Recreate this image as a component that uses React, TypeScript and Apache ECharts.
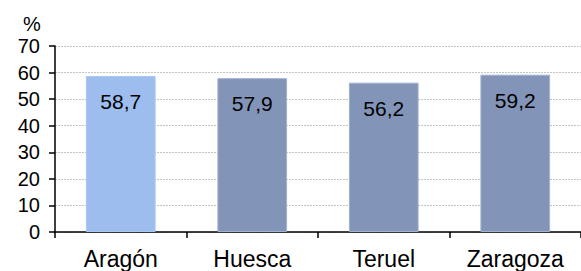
import React, { useEffect, useRef } from "react";
import * as echarts from "echarts";

const categories = ["Aragón", "Huesca", "Teruel", "Zaragoza"];
const values = [58.7, 57.9, 56.2, 59.2];
const barColors = ["#9DBDEF", "#8295B8", "#8295B8", "#8295B8"];
const borderColors = ["#A9C5F0", "#A3B1CC", "#A3B1CC", "#A3B1CC"];

export default function App() {
  const ref = useRef<HTMLDivElement>(null);
  useEffect(() => {
    if (!ref.current) return;
    const chart = echarts.init(ref.current, undefined, { renderer: "svg" });
    const font = "'Liberation Sans', Arial, sans-serif";
    chart.setOption({
      animation: false,
      backgroundColor: "#ffffff",
      textStyle: { fontFamily: font },
      grid: { left: 55, top: 46, width: 528, height: 186, containLabel: false },
      graphic: [
        {
          type: "text",
          left: 23,
          top: 14,
          style: { text: "%", font: `20px ${font}`, fill: "#000" },
        },
      ],
      xAxis: {
        type: "category",
        data: categories,
        axisLine: { lineStyle: { color: "#000", width: 1.5 } },
        axisTick: { show: true, length: 6, lineStyle: { color: "#000", width: 1.5 } },
        axisLabel: { color: "#000", fontSize: 23, fontFamily: font, margin: 15 },
      },
      yAxis: {
        type: "value",
        min: 0,
        max: 70,
        interval: 10,
        axisLine: { show: true, lineStyle: { color: "#000", width: 1.5 } },
        axisTick: { show: true, length: 6, lineStyle: { color: "#000", width: 1.5 } },
        axisLabel: { color: "#000", fontSize: 20, fontFamily: font, margin: 15 },
        splitLine: { show: true, lineStyle: { color: "#C4C4C4", type: [2, 1], width: 1 } },
      },
      series: [
        {
          type: "bar",
          barWidth: "53%",
          data: values.map((v, i) => ({
            value: v,
            itemStyle: { color: barColors[i], borderColor: borderColors[i], borderWidth: 1 },
          })),
          label: {
            show: true,
            position: "insideTop",
            distance: 15,
            color: "#000",
            fontSize: 21,
            fontFamily: font,
            formatter: (p: any) => String(p.value).replace(".", ","),
          },
        },
      ],
    });
    return () => chart.dispose();
  }, []);
  return (
    <div
      ref={ref}
      style={{ position: "fixed", left: 0, top: 0, width: 581, height: 271 }}
    />
  );
}
